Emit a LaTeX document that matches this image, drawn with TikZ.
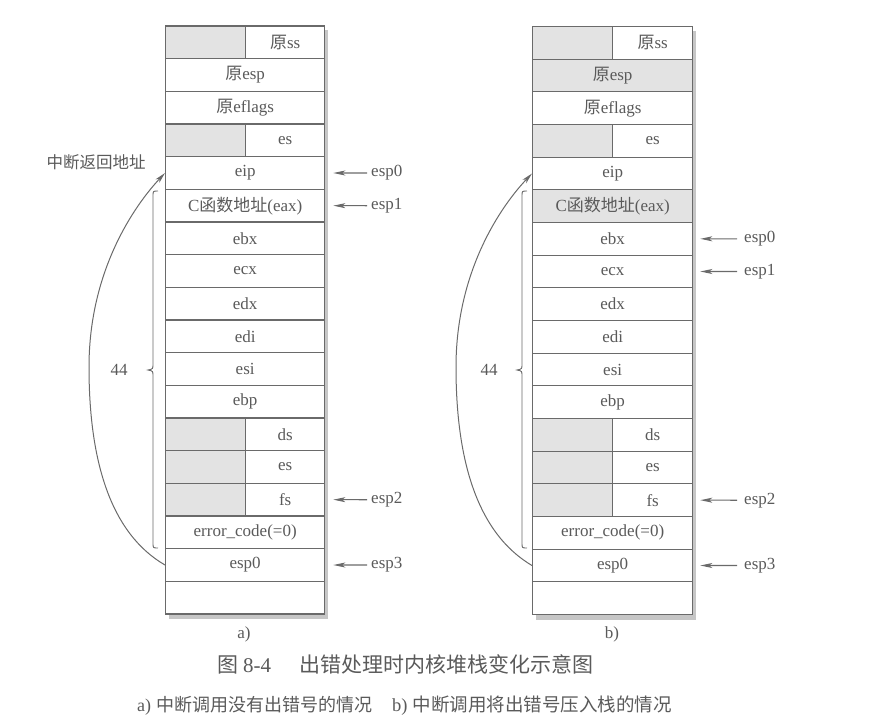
\documentclass[tikz,border=0pt]{standalone}
\usepackage{fontspec}
\setmainfont{Liberation Serif}
\newfontfamily\cjk{Noto Sans CJK SC}
\usetikzlibrary{arrows.meta}
\definecolor{ln}{HTML}{6A6A6A}
\definecolor{tx}{HTML}{5A5A5A}
\definecolor{shd}{HTML}{E3E3E3}
\definecolor{shw}{HTML}{C6C6C6}
\newcommand\yu{{\cjk 原}}
\begin{document}
\begin{tikzpicture}[x=1pt,y=-1pt,
  cell/.style={draw=ln,line width=1.3pt,fill=white,inner sep=0pt,minimum height=32.667pt,anchor=west,text=tx,font=\fontsize{17}{17}\selectfont},
  gcell/.style={cell,fill=shd},
  lbl/.style={text=tx,inner sep=0pt,font=\fontsize{17}{17}\selectfont},
  ptr/.style={draw=ln,line width=1.1pt,-{Stealth[length=12pt,width=5pt,inset=3pt]}},
  ret/.style={draw=ln,line width=1pt,-{Stealth[length=11pt,width=5pt,inset=3pt]}},
  br/.style={draw=ln,line width=0.9pt}]
\useasboundingbox (0,0) rectangle (873,726);

% shadows
\fill[shw] (169,30) rectangle (328,619);
\fill[shw] (536,31) rectangle (696,620);

% left stack
\foreach \r/\t in {2/{\yu esp},3/{\yu eflags},5/eip,6/{C{\cjk 函数地址}(eax)},7/ebx,8/ecx,9/edx,10/edi,11/esi,12/ebp,16/{error\_code(=0)},17/esp0,18/{}}
  {\node[cell,minimum width=159pt] (L\r) at (165,{26+(\r-0.5)*32.667}) {\t};}
\foreach \r/\t in {1/{\yu ss},4/es,13/ds,14/es,15/fs}
  {\node[gcell,minimum width=80pt] (L\r a) at (165,{26+(\r-0.5)*32.667}) {};
   \node[cell,minimum width=79pt] (L\r) at (245,{26+(\r-0.5)*32.667}) {\t};}

% right stack
\foreach \r/\f/\t in {2/shd/{\yu esp},3/white/{\yu eflags},5/white/eip,6/shd/{C{\cjk 函数地址}(eax)},7/white/ebx,8/white/ecx,9/white/edx,10/white/edi,11/white/esi,12/white/ebp,16/white/{error\_code(=0)},17/white/esp0,18/white/{}}
  {\node[cell,fill=\f,minimum width=160pt] (R\r) at (532,{26.5+(\r-0.5)*32.667}) {\t};}
\foreach \r/\t in {1/{\yu ss},4/es,13/ds,14/es,15/fs}
  {\node[gcell,minimum width=80pt] (R\r a) at (532,{26.5+(\r-0.5)*32.667}) {};
   \node[cell,minimum width=80pt] (R\r) at (612,{26.5+(\r-0.5)*32.667}) {\t};}

% pointer labels left
\node[lbl,anchor=west] (la0) at (371,173) {esp0};
\node[lbl,anchor=west] (la1) at (371,205.7) {esp1};
\node[lbl,anchor=west] (la2) at (371,499.7) {esp2};
\node[lbl,anchor=west] (la3) at (371,565) {esp3};
\draw[ptr,shorten <=4pt,shorten >=8pt] (la0.west) -- (L5.east);
\draw[ptr,shorten <=4pt,shorten >=8pt] (la1.west) -- (L6.east);
\draw[ptr,shorten <=4pt,shorten >=8pt] (la2.west) -- (L15.east);
\draw[ptr,shorten <=4pt,shorten >=8pt] (la3.west) -- (L17.east);

% pointer labels right
\node[lbl,anchor=west] (rb0) at (744,238.8) {esp0};
\node[lbl,anchor=west] (rb1) at (744,271.5) {esp1};
\node[lbl,anchor=west] (rb2) at (744,500.2) {esp2};
\node[lbl,anchor=west] (rb3) at (744,565.5) {esp3};
\draw[ptr,shorten <=7pt,shorten >=7pt] (rb0.west) -- (R7.east);
\draw[ptr,shorten <=7pt,shorten >=7pt] (rb1.west) -- (R8.east);
\draw[ptr,shorten <=7pt,shorten >=7pt] (rb2.west) -- (R15.east);
\draw[ptr,shorten <=7pt,shorten >=7pt] (rb3.west) -- (R17.east);

% return curves
\draw[ret] (L17.west) .. controls (110,533) and (89,460) .. (89,367) .. controls (89,270) and (135,205) .. (L5.west);
\draw[ret] (R17.west) .. controls (477,533) and (456,460) .. (456,367) .. controls (456,270) and (502,205) .. (R5.west);

% braces
\draw[br] (158,191) .. controls (153,191) .. (153,196) -- (153,364) .. controls (153,369) .. (148,370) .. controls (153,371) .. (153,376) -- (153,543) .. controls (153,548) .. (158,548);
\draw[br] (527,191) .. controls (522,191) .. (522,196) -- (522,364) .. controls (522,369) .. (517,370) .. controls (522,371) .. (522,376) -- (522,543) .. controls (522,548) .. (527,548);
\node[lbl] (n44l) at (119,370) {44};
\node[lbl] (n44r) at (489,370) {44};

\node[lbl,font=\cjk\fontsize{16.5}{16.5}\selectfont] (ret) at (96,162) {中断返回地址};

% captions
\node[lbl] (capa) at (244,634) {a)};
\node[lbl] (capb) at (612,634) {b)};
\node[lbl,anchor=west,font=\fontsize{21}{21}\selectfont] (title) at (217,664) {{\cjk 图}\hspace{5pt}8-4\hspace{28pt}{\cjk 出错处理时内核堆栈变化示意图}};
\node[lbl,anchor=west,font=\fontsize{18}{18}\selectfont] (suba) at (137,706) {a)\hspace{5pt}{\cjk 中断调用没有出错号的情况}};
\node[lbl,anchor=west,font=\fontsize{18.5}{18.5}\selectfont] (subb) at (392,706) {b)\hspace{5pt}{\cjk 中断调用将出错号压入栈的情况}};
\end{tikzpicture}
\end{document}
